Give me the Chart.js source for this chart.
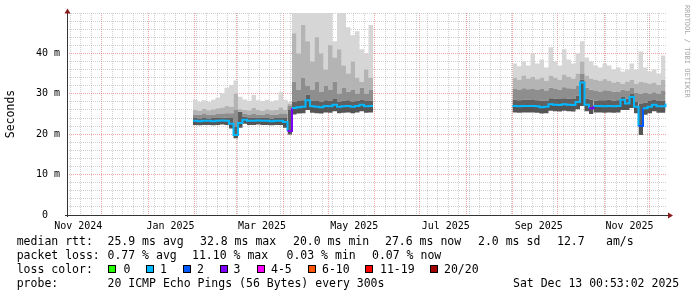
<!DOCTYPE html>
<html>
<head>
<meta charset="utf-8">
<title>smokeping 400 days</title>
<script src="https://cdn.jsdelivr.net/npm/chart.js@4.4.1/dist/chart.umd.min.js"></script>
<style>
  body { margin: 0; background: #fff; }
  #wrap { position: relative; width: 697px; height: 297px; overflow: hidden; }
  #chart { position: absolute; left: 0; top: 0; }
  .lg { position: absolute; font-family: 'DejaVu Sans Mono', monospace; font-size: 11.5px; line-height: 14px; white-space: pre; color: #000; }
  .sw { position: absolute; width: 6px; height: 6px; border: 1px solid #000; }
  #mark { position: absolute; left: 683px; top: 5px; writing-mode: vertical-rl; font-family: 'DejaVu Sans Mono', monospace; font-size: 7px; line-height: 8px; color: #a8a8a8; white-space: pre; }
</style>
</head>
<body>
<div id="wrap">
  <canvas id="chart" width="697" height="297"></canvas>
  <div id="mark">RRDTOOL / TOBI OETIKER</div>

  <div class="lg" style="left:16.7px;top:234px">median rtt:</div>
  <div class="lg" style="left:107.5px;top:234px">25.9 ms avg</div>
  <div class="lg" style="left:200px;top:234px">32.8 ms max</div>
  <div class="lg" style="left:293px;top:234px">20.0 ms min</div>
  <div class="lg" style="left:385px;top:234px">27.6 ms now</div>
  <div class="lg" style="left:478px;top:234px">2.0 ms sd</div>
  <div class="lg" style="left:557px;top:234px">12.7</div>
  <div class="lg" style="left:606px;top:234px">am/s</div>

  <div class="lg" style="left:16.7px;top:248px">packet loss:</div>
  <div class="lg" style="left:107.5px;top:248px">0.77 % avg</div>
  <div class="lg" style="left:192px;top:248px">11.10 % max</div>
  <div class="lg" style="left:286.5px;top:248px">0.03 % min</div>
  <div class="lg" style="left:372px;top:248px">0.07 % now</div>

  <div class="lg" style="left:16.7px;top:262px">loss color:</div>
  <div id="swatches"></div>

  <div class="lg" style="left:16.7px;top:276px">probe:</div>
  <div class="lg" style="left:107.5px;top:276px">20 ICMP Echo Pings (56 Bytes) every 300s</div>
  <div class="lg" style="left:513px;top:276px">Sat Dec 13 00:53:02 2025</div>
</div>
<script>
// x values are days since the graph start (Nov 8 2024 00:53), 400 days shown
var graphDays = 400;
var stepDays = 3;
var seg1Start = 84;   // Feb 1 2025
var seg2Start = 297;  // Sep 1 2025

var monthDays = [23, 54, 85, 113, 144, 174, 205, 235, 266, 297, 327, 358, 388];
var tickLabels = ['Nov 2024', 'Jan 2025', 'Mar 2025', 'May 2025', 'Jul 2025', 'Sep 2025', 'Nov 2025'];
var labelDays = [7.5, 69, 130, 191.5, 252.5, 314.5, 375];

// segment 1: Feb 1 - Jun 1 2025 (ms)
var lo1  = [22.3, 22.2, 22.3, 22.3, 22.2, 22.3, 22.4, 22.3, 21.4, 19.0, 21.6, 22.6, 22.3, 22.3, 22.4, 22.3, 22.3, 22.2, 22.3, 22.3, 21.6,
            19.9, 24.9, 25.1, 25.2, 26.0, 25.3, 25.2, 25.1, 25.4, 25.3, 25.7, 25.2, 25.3, 25.4, 25.2, 25.4, 25.7, 25.3, 25.4, 25.4];
var med1 = [23.3, 23.2, 23.3, 23.3, 23.2, 23.3, 23.4, 23.3, 22.6, 19.8, 22.8, 23.6, 23.3, 23.3, 23.4, 23.3, 23.3, 23.2, 23.3, 23.3, 23.0,
            20.8, 26.5, 26.7, 26.8, 28.4, 26.9, 26.8, 26.7, 27.0, 26.9, 27.3, 26.8, 26.9, 27.0, 26.8, 27.0, 27.3, 26.9, 27.0, 27.0];
var up1a = [24.0, 23.9, 24.0, 23.9, 24.0, 24.0, 24.1, 24.1, 24.0, 21.8, 25.5, 24.3, 24.0, 24.0, 24.1, 24.0, 24.0, 23.9, 24.0, 24.0, 24.0,
            26.0, 28.0, 28.2, 28.4, 29.8, 28.3, 28.2, 28.0, 28.4, 28.3, 28.7, 28.1, 28.3, 28.4, 28.1, 28.3, 28.6, 28.2, 28.3, 28.3];
var up1b = [24.9, 24.8, 25.0, 24.8, 24.9, 25.0, 25.1, 25.2, 25.2, 26.0, 25.6, 25.0, 24.9, 25.1, 24.9, 24.8, 25.0, 24.9, 24.9, 25.1, 25.0,
            27.0, 33.0, 31.0, 34.0, 32.0, 31.0, 33.0, 30.5, 32.0, 31.0, 33.0, 30.0, 31.5, 30.5, 31.0, 30.0, 31.5, 30.0, 31.0, 31.0];
var up1c = [26.0, 25.8, 26.3, 25.9, 26.1, 26.4, 26.6, 27.0, 26.8, 30.0, 26.2, 26.0, 25.9, 26.5, 26.0, 25.8, 26.1, 25.9, 26.0, 26.6, 26.0,
            27.5, 45, 40, 47, 43, 38, 44, 40, 36, 42, 39, 41, 37, 35, 38, 34, 33, 36, 34, 34];
var top1 = [28.6, 28.0, 28.4, 28.0, 28.5, 29.0, 30.2, 31.5, 32.2, 33.3, 29.3, 28.6, 28.3, 29.7, 28.4, 28.2, 28.5, 28.1, 28.4, 30.4, 28.5,
            28.0, 55, 55, 55, 55, 55, 55, 55, 55, 55, 43, 55, 55, 46.5, 44.5, 45.5, 41, 40, 47, 47];
var loss1 = [1, 1, 1, 1, 1, 1, 1, 1, 1, 1, 1, 1, 1, 1, 1, 1, 1, 1, 1, 1, 1,
             3, 1, 1, 1, 1, 1, 1, 1, 1, 1, 1, 1, 1, 1, 1, 1, 1, 1, 1, 1];

// segment 2: Sep 1 - Dec 12 2025 (ms)
var lo2  = [25.4, 25.3, 25.4, 25.4, 25.4, 25.3, 25.1, 25.2, 25.8, 25.7, 25.6, 25.8, 25.7, 25.6, 26.2, 27.0, 25.7, 25.0,
            25.4, 25.4, 25.3, 25.4, 25.3, 25.4, 26.0, 26.0, 26.5, 25.2, 19.8, 24.8, 25.2, 25.7, 25.3, 25.3, 26.0];
var med2 = [27.0, 26.9, 27.0, 27.0, 27.0, 26.9, 26.7, 26.8, 27.4, 27.3, 27.2, 27.4, 27.3, 27.2, 28.0, 32.8, 27.3, 26.4,
            27.0, 27.0, 26.9, 27.0, 26.9, 27.0, 28.5, 27.6, 29.2, 26.8, 22.0, 26.4, 26.8, 27.3, 26.9, 26.9, 27.6];
var up2a = [28.5, 28.4, 28.5, 28.5, 28.6, 28.4, 28.3, 28.3, 28.9, 28.8, 28.7, 28.9, 28.8, 28.7, 29.5, 33.5, 28.8, 28.5,
            28.3, 28.4, 28.4, 28.5, 28.3, 28.4, 29.2, 28.8, 30.0, 28.0, 27.5, 27.8, 28.2, 28.6, 28.2, 28.3, 28.6];
var up2b = [31.2, 31.0, 31.4, 31.1, 31.3, 31.0, 31.2, 30.8, 31.5, 31.3, 31.0, 31.6, 31.4, 31.2, 32.0, 35.0, 31.5, 31.0,
            30.8, 30.6, 30.9, 30.7, 30.5, 30.6, 31.0, 30.8, 31.5, 30.3, 30.0, 30.2, 30.0, 30.4, 30.0, 30.8, 30.2];
var up2c = [34.0, 33.5, 34.5, 33.8, 34.2, 33.6, 34.0, 33.2, 34.5, 34.0, 33.5, 34.8, 34.2, 33.8, 35.0, 38.0, 34.5, 33.8,
            33.5, 33.2, 33.6, 33.2, 32.8, 33.0, 32.5, 33.0, 33.5, 32.5, 33.0, 32.8, 32.5, 32.8, 32.2, 33.5, 32.5];
var top2 = [37.5, 36.8, 38.0, 37.0, 40.0, 37.5, 38.5, 36.5, 41.5, 38.0, 37.0, 41.0, 38.5, 37.5, 40.0, 43.0, 39.0, 38.0,
            37.0, 36.5, 37.5, 37.0, 36.0, 36.5, 35.5, 36.0, 37.5, 36.0, 40.5, 36.5, 35.5, 36.0, 35.0, 39.5, 35.5];
var loss2 = [1, 1, 1, 1, 1, 1, 1, 1, 1, 1, 1, 1, 1, 1, 1, 1, 1, 3,
             1, 1, 1, 1, 1, 1, 1, 1, 1, 1, 2, 1, 1, 1, 1, 1, 1];

var lossNames  = ['0', '1', '2', '3', '4-5', '6-10', '11-19', '20/20'];
var lossColors = ['#26ff00', '#00b8ff', '#0059ff', '#7e00ff', '#ff00ff', '#ff5500', '#ff0000', '#a10000'];
var lossSwatchX = [108, 145.5, 182.5, 220, 257, 307.5, 365, 430];
var lossTextX   = [123.5, 160, 197, 233.5, 271, 322, 380, 444];

var smokeColors = ['#555555', '#606060', '#8e8e8e', '#b4b4b4', '#d6d6d6'];
var gridGray = 'rgba(170,170,170,0.55)';
var gridRed = 'rgba(230,90,90,0.55)';

function series(a1, a2) {
    var pts = a1.map(function (v, i) { return { x: seg1Start + i * stepDays, y: v }; });
    pts.push({ x: 250, y: null });
    a2.forEach(function (v, i) { pts.push({ x: seg2Start + i * stepDays, y: v }); });
    return pts;
}

var lossAll = loss1.concat([1], loss2);

function band(data, color) {
    return {
        data: data, fill: '-1', backgroundColor: color, borderColor: 'rgba(0,0,0,0)',
        borderWidth: 1, pointRadius: 0, stepped: true, order: 1, clip: 0
    };
}

// legend swatches
var sw = document.getElementById('swatches');
lossNames.forEach(function (name, i) {
    var box = document.createElement('div');
    box.className = 'sw';
    box.style.left = lossSwatchX[i] + 'px';
    box.style.top = '265px';
    box.style.background = lossColors[i];
    sw.appendChild(box);
    var t = document.createElement('div');
    t.className = 'lg';
    t.style.left = lossTextX[i] + 'px';
    t.style.top = '262px';
    t.textContent = name;
    sw.appendChild(t);
});

var axesArrows = {
    id: 'axesArrows',
    afterDraw: function (chart) {
        var ctx = chart.ctx, a = chart.chartArea;
        ctx.save();
        ctx.strokeStyle = '#333';
        ctx.lineWidth = 1;
        ctx.beginPath();
        ctx.moveTo(a.left + 0.5, a.bottom + 2);
        ctx.lineTo(a.left + 0.5, 11);
        ctx.moveTo(a.left - 2, a.bottom + 0.5);
        ctx.lineTo(a.right + 3, a.bottom + 0.5);
        ctx.stroke();
        ctx.fillStyle = '#8b1a1a';
        ctx.beginPath();
        ctx.moveTo(a.left + 0.5, 8.5);
        ctx.lineTo(a.left - 2.5, 13.5);
        ctx.lineTo(a.left + 3.5, 13.5);
        ctx.closePath();
        ctx.fill();
        ctx.beginPath();
        ctx.moveTo(a.right + 6, a.bottom + 0.5);
        ctx.lineTo(a.right + 1, a.bottom - 2.5);
        ctx.lineTo(a.right + 1, a.bottom + 3.5);
        ctx.closePath();
        ctx.fill();
        ctx.restore();
    }
};

var weekDays = [];
for (var d = 2; d < graphDays; d += 7) {
    if (monthDays.indexOf(d) < 0) weekDays.push(d);
}

Chart.defaults.font.family = "'DejaVu Sans Mono', monospace";
Chart.defaults.font.size = 10;
Chart.defaults.color = '#000';

var ctx = document.getElementById('chart').getContext('2d');
new Chart(ctx, {
    type: 'line',
    data: {
        datasets: [
            { data: series(lo1, lo2), fill: false, borderColor: 'rgba(0,0,0,0)', borderWidth: 1, pointRadius: 0, stepped: true, order: 1, clip: 0 },
            {
                data: series(med1, med2), fill: '-1', backgroundColor: smokeColors[0],
                borderColor: lossColors[1], borderWidth: 2, pointRadius: 0, stepped: true, order: 0, clip: 0,
                segment: { borderColor: function (c) { return lossColors[lossAll[c.p0DataIndex]]; } }
            },
            band(series(up1a, up2a), smokeColors[1]),
            band(series(up1b, up2b), smokeColors[2]),
            band(series(up1c, up2c), smokeColors[3]),
            band(series(top1, top2), smokeColors[4])
        ]
    },
    options: {
        responsive: false,
        animation: false,
        spanGaps: false,
        layout: { padding: { left: 0, right: 30, top: 13, bottom: 66 } },
        plugins: { legend: { display: false }, tooltip: { enabled: false } },
        scales: {
            x: {
                type: 'linear', min: 0, max: graphDays, z: 1,
                afterBuildTicks: function (scale) {
                    var vals = weekDays.concat(monthDays, labelDays).sort(function (p, q) { return p - q; });
                    scale.ticks = vals.map(function (v) { return { value: v }; });
                },
                afterFit: function (scale) { scale.height = 16; },
                ticks: {
                    autoSkip: false, maxRotation: 0, minRotation: 0, padding: 5.5,
                    callback: function (v) { var k = labelDays.indexOf(v); return k >= 0 ? tickLabels[k] : ''; }
                },
                grid: {
                    drawTicks: false, lineWidth: 1,
                    color: function (c) {
                        var v = c.tick ? c.tick.value : -1;
                        if (labelDays.indexOf(v) >= 0) return 'rgba(0,0,0,0)';
                        if (monthDays.indexOf(v) >= 0) return gridRed;
                        return gridGray;
                    }
                },
                border: { display: false, dash: [1, 1] }
            },
            y: {
                min: 0, max: 50, z: 1,
                afterFit: function (scale) { scale.width = 67; },
                title: { display: true, text: 'Seconds', font: { size: 11.5 }, padding: { top: 4, bottom: 0 } },
                ticks: {
                    stepSize: 2, autoSkip: false, padding: 7,
                    callback: function (v) {
                        if (v % 10 !== 0 || v >= 50) return '';
                        return v === 0 ? '0  ' : v + ' m';
                    }
                },
                grid: {
                    drawTicks: false, lineWidth: 1,
                    color: function (c) {
                        var v = c.tick ? c.tick.value : -1;
                        if (v === 0) return 'rgba(0,0,0,0)';
                        if (v % 10 === 0 && v < 50) return gridRed;
                        return gridGray;
                    }
                },
                border: { display: false, dash: [1, 1] }
            }
        }
    },
    plugins: [axesArrows]
});
</script>
</body>
</html>
